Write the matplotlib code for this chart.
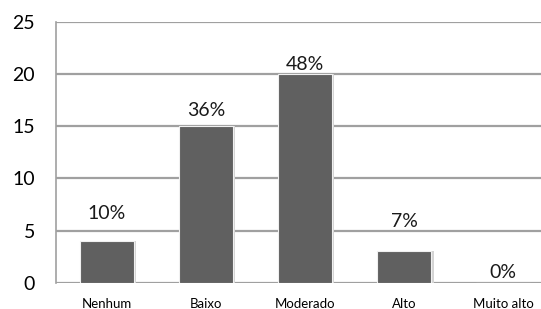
import numpy as np
import matplotlib
matplotlib.use("Agg")
import matplotlib.pyplot as plt

# data
categorias = ["Nenhum", "Baixo", "Moderado", "Alto", "Muito alto"]
valores = [4, 15, 20, 3, 0]
rotulos = ["10%", "36%", "48%", "7%", "0%"]

plt.rcParams['font.family'] = ['Lato', 'DejaVu Sans']

fig = plt.figure(figsize=(5.41, 3.09), dpi=100)
ax = fig.add_axes([0.1035, 0.0851, 0.8965, 0.8437])

x = np.arange(len(categorias))
bar_w = 0.545

# soft shadow behind the bars
ax.bar(x + 0.025, valores, width=bar_w, color="#d4d4d4", zorder=2)
ax.bar(x, valores, width=bar_w, color="#606060", edgecolor="#f0f0f0",
       linewidth=0.8, zorder=3)

# label offsets (points) - excel placed them unevenly
offs = [20, 11.5, 7, 21.5, 7]
for xi, v, lab, o in zip(x, valores, rotulos, offs):
    ax.annotate(lab, (xi, v), xytext=(0, o), textcoords="offset points",
                ha="center", va="center", fontsize=14, color="#1a1a1a")

ax.set_ylim(0, 25)
ax.set_xlim(-0.51, 4.38)
ax.set_yticks([0, 5, 10, 15, 20, 25])
ax.set_xticks(x)
ax.set_xticklabels(categorias, fontsize=9.5)
ax.tick_params(axis="y", labelsize=14, length=0, pad=15)
ax.tick_params(axis="x", length=0, pad=11)
ax.yaxis.grid(True, color="#a0a0a0", linewidth=1.6, zorder=0)
ax.set_axisbelow(True)

for s in ["top", "right", "bottom"]:
    ax.spines[s].set_visible(False)
ax.spines["left"].set_color("#a0a0a0")
ax.spines["left"].set_linewidth(1.2)

fig.savefig("out.png", dpi=100)
